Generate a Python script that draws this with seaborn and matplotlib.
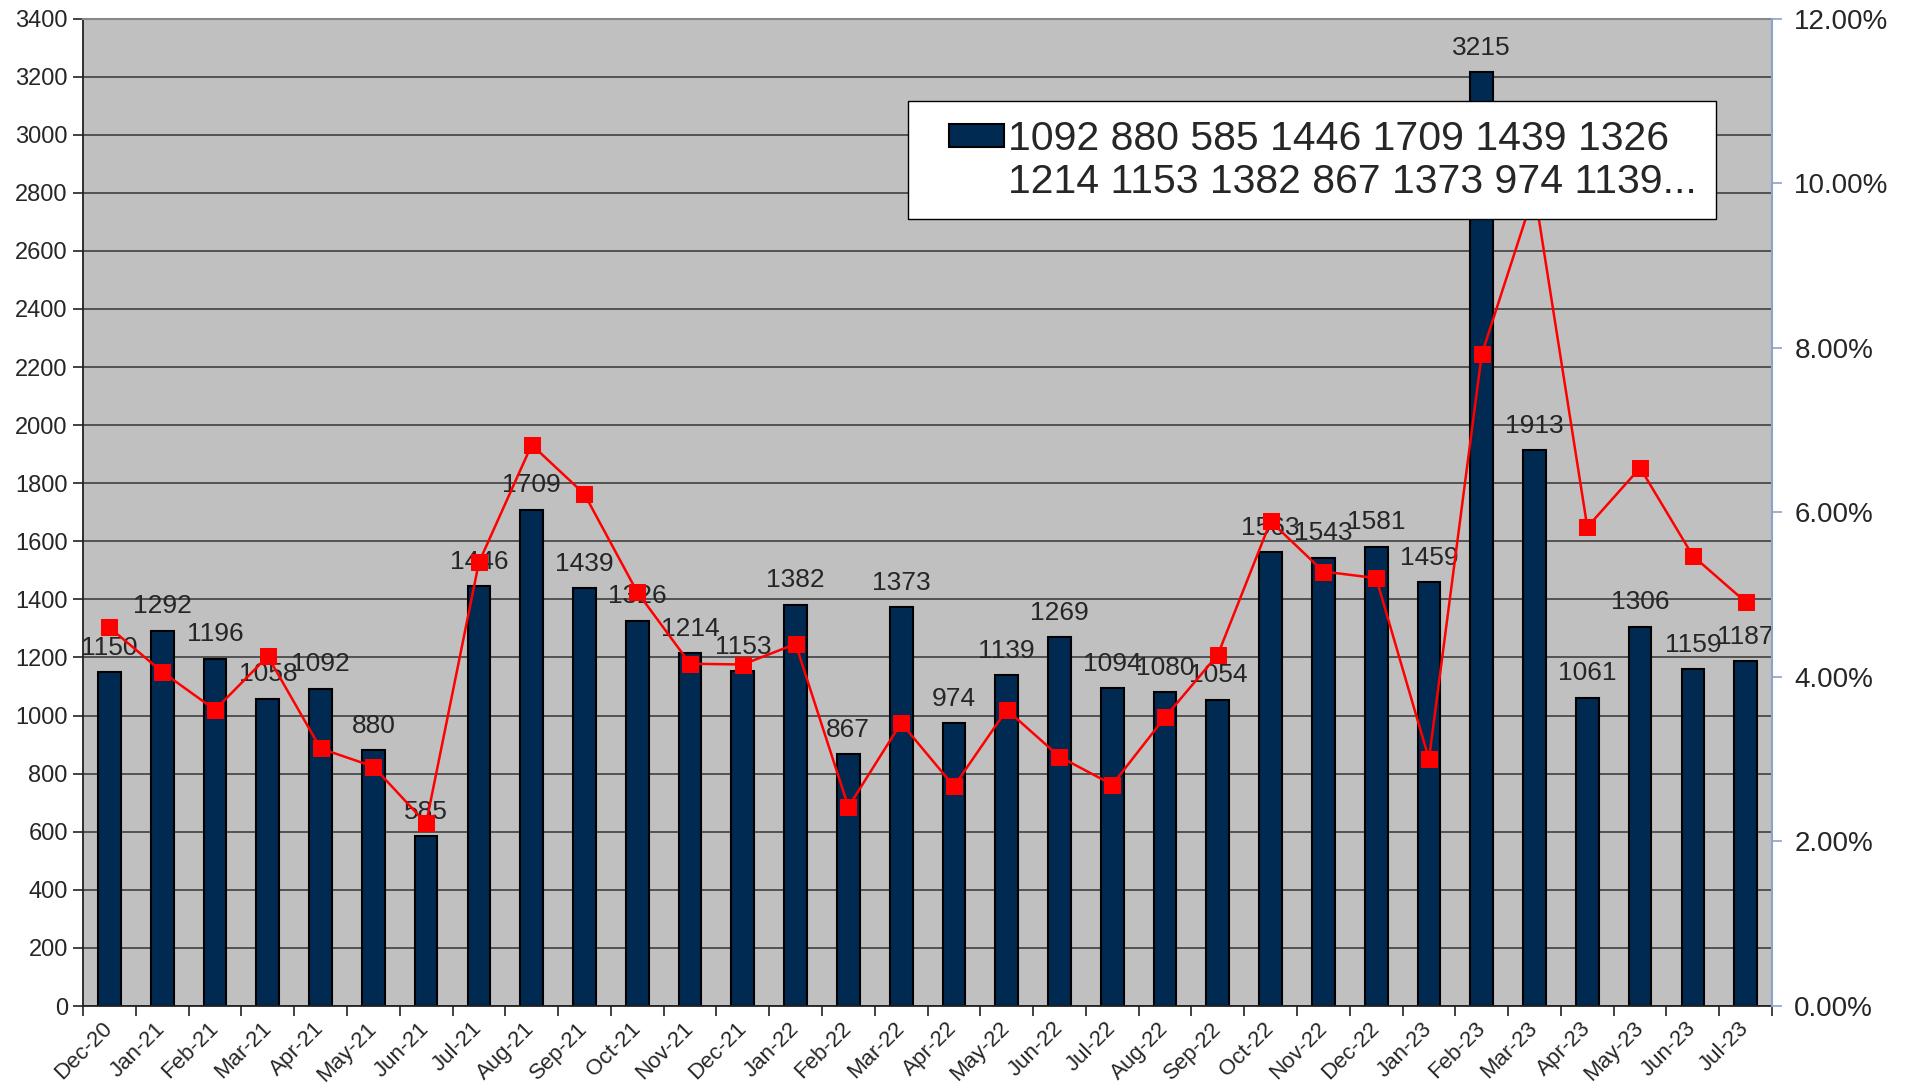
import numpy as np
import pandas as pd
import seaborn as sns
import matplotlib.pyplot as plt
from matplotlib.ticker import PercentFormatter, MultipleLocator
from matplotlib.patches import Rectangle
from matplotlib.legend_handler import HandlerPatch

months = ["Dec-20", "Jan-21", "Feb-21", "Mar-21", "Apr-21", "May-21", "Jun-21", "Jul-21",
          "Aug-21", "Sep-21", "Oct-21", "Nov-21", "Dec-21", "Jan-22", "Feb-22", "Mar-22",
          "Apr-22", "May-22", "Jun-22", "Jul-22", "Aug-22", "Sep-22", "Oct-22", "Nov-22",
          "Dec-22", "Jan-23", "Feb-23", "Mar-23", "Apr-23", "May-23", "Jun-23", "Jul-23"]
counts = [1150, 1292, 1196, 1058, 1092, 880, 585, 1446,
          1709, 1439, 1326, 1214, 1153, 1382, 867, 1373,
          974, 1139, 1269, 1094, 1080, 1054, 1563, 1543,
          1581, 1459, 3215, 1913, 1061, 1306, 1159, 1187]
# red line, percent
rates = [4.60, 4.06, 3.60, 4.25, 3.13, 2.91, 2.22, 5.39,
         6.82, 6.22, 5.03, 4.16, 4.15, 4.40, 2.42, 3.44,
         2.67, 3.60, 3.03, 2.69, 3.51, 4.27, 5.89, 5.28,
         5.20, 3.00, 7.92, 9.90, 5.82, 6.54, 5.47, 4.91]

df = pd.DataFrame({"month": months, "count": counts, "rate": np.array(rates) / 100})
df["pos"] = np.arange(len(df))

bar_color = "#012a52"

sns.set_style("white")
plt.rcParams["font.family"] = ["Liberation Sans", "DejaVu Sans"]

fig = plt.figure(figsize=(19.18, 10.85), dpi=100)
ax = fig.add_axes([0.0433, 0.0728, 0.8806, 0.9101])
ax.set_facecolor("#c0c0c0")

sns.barplot(data=df, x="month", y="count", color=bar_color, saturation=1,
            width=0.43, edgecolor="black", linewidth=1.5, ax=ax, zorder=2)
ax.bar_label(ax.containers[0], labels=[str(v) for v in counts], padding=9, fontsize=19)

ax.set_ylim(0, 3400)
ax.yaxis.set_major_locator(MultipleLocator(200))
ax.set_xlim(-0.5, len(months) - 0.5)
ax.grid(axis="y", color="#4a4a4a", lw=1.3)
ax.set_axisbelow(True)
ax.set_xlabel("")
ax.set_ylabel("")

ax.set_xticks(range(len(months)))
ax.set_xticklabels(months, rotation=45, ha="right", va="center", rotation_mode="anchor", fontsize=16)
ax.set_xticks(np.arange(-0.5, len(months), 1), minor=True)
ax.tick_params(axis="x", which="major", length=0, pad=14)
ax.tick_params(axis="x", which="minor", length=7, direction="out", color="#222222", width=1.2, bottom=True)
ax.tick_params(axis="y", length=7, direction="out", color="#222222", width=1.2, labelsize=17, pad=4, left=True)

for s in ["left", "bottom"]:
    ax.spines[s].set_color("#222222")
    ax.spines[s].set_linewidth(1.3)
ax.spines["top"].set_color("#888888")
ax.spines["top"].set_linewidth(1.5)
ax.spines["right"].set_visible(False)

ax2 = ax.twinx()
sns.lineplot(data=df, x="pos", y="rate", color="red", marker="s", markersize=11,
             markeredgecolor="red", lw=1.8, ax=ax2)
ax2.set_ylim(0, 0.12)
ax2.yaxis.set_major_locator(MultipleLocator(0.02))
ax2.yaxis.set_major_formatter(PercentFormatter(1.0, decimals=2))
ax2.set_ylabel("")
ax2.tick_params(axis="y", length=7, direction="out", color="#8ea3c6", width=1.2, labelsize=20, pad=9)
for s in ["left", "top", "bottom"]:
    ax2.spines[s].set_visible(False)
ax2.spines["right"].set_color("#8ea3c6")
ax2.spines["right"].set_linewidth(1.5)


# legend: swatch sits at the right of a wider handle box, next to the first line only
def swatch(legend, orig_handle, xdescent, ydescent, width, height, fontsize):
    w = 1.35 * fontsize
    return Rectangle((width - w - xdescent, -ydescent), w, height)


line1 = " ".join(str(v) for v in counts[4:11])
line2 = " ".join(str(v) for v in counts[11:18]) + "..."
h1 = Rectangle((0, 0), 1, 1, facecolor=bar_color, edgecolor="black", lw=1.5)
h2 = Rectangle((0, 0), 1, 1, facecolor="none", edgecolor="none")
leg = fig.legend(handles=[h1, h2], labels=[line1, line2],
                 handler_map={Rectangle: HandlerPatch(patch_func=swatch)},
                 loc="upper left", bbox_to_anchor=(0.4734, 0.9065), bbox_transform=fig.transFigure,
                 fontsize=29.5, frameon=True, fancybox=False, framealpha=1, edgecolor="black",
                 handlelength=1.9, handleheight=0.5, handletextpad=0.1, borderpad=0.45,
                 labelspacing=0.12, borderaxespad=0)
leg.get_frame().set_linewidth(1.0)

fig.savefig("out.png", dpi=100)
